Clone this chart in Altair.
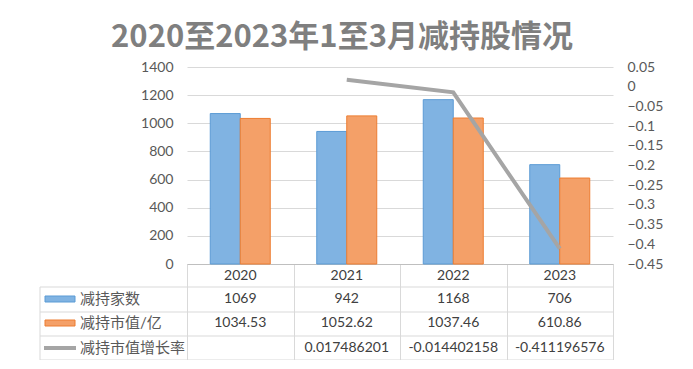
import altair as alt
import pandas as pd

years = ["2020", "2021", "2022", "2023"]
firms = [1069, 942, 1168, 706]
mkt_value = [1034.53, 1052.62, 1037.46, 610.86]
growth = [None, 0.017486201, -0.014402158, -0.411196576]
firms_txt = ["1069", "942", "1168", "706"]
value_txt = ["1034.53", "1052.62", "1037.46", "610.86"]
growth_txt = ["", "0.017486201", "-0.014402158", "-0.411196576"]
series = ["减持家数", "减持市值/亿", "减持市值增长率"]
left_ticks = [0, 200, 400, 600, 800, 1000, 1200, 1400]
right_ticks = [0.05, 0, -0.05, -0.1, -0.15, -0.2, -0.25, -0.3, -0.35, -0.4, -0.45]

FONT = "Lato, Noto Sans CJK SC, sans-serif"
TXT = "#404040"
W, H = 426, 197

bars_df = pd.DataFrame({
    "year": years * 2,
    "series": [series[0]] * 4 + [series[1]] * 4,
    "val": firms + mkt_value,
})
line_df = pd.DataFrame({"year": years, "growth": growth}).dropna()
table_df = pd.DataFrame({"year": years, "f": firms_txt, "v": value_txt, "g": growth_txt})

xscale = alt.Scale(domain=years, paddingInner=0, paddingOuter=0)

bars = alt.Chart(bars_df).mark_bar(strokeWidth=1).encode(
    x=alt.X("year:N", scale=xscale, sort=years,
            axis=alt.Axis(title=None, labels=False, tickBand="extent", tickSize=96,
                          tickColor="#d9d9d9", domainColor="#bfbfbf", grid=False)),
    xOffset=alt.XOffset("series:N", sort=series[:2],
                        scale=alt.Scale(paddingOuter=0.775, paddingInner=0)),
    y=alt.Y("val:Q", scale=alt.Scale(domain=[0, 1400], nice=False),
            axis=alt.Axis(title=None, values=left_ticks, format="d", grid=True, gridColor="#d9d9d9",
                          domain=False, ticks=False, labelFontSize=14, labelColor="#595959",
                          labelPadding=14, labelFont=FONT)),
    color=alt.Color("series:N", scale=alt.Scale(domain=series[:2], range=["#80b3e2", "#f4a068"]),
                    legend=None),
    stroke=alt.Stroke("series:N", scale=alt.Scale(domain=series[:2], range=["#5b9bd5", "#ed7d31"]),
                      legend=None),
)

line = alt.Chart(line_df).mark_line(color="#a5a5a5", strokeWidth=4).encode(
    x=alt.X("year:N", scale=xscale, sort=years),
    y=alt.Y("growth:Q", scale=alt.Scale(domain=[-0.45, 0.05], nice=False, zero=False),
            axis=alt.Axis(title=None, orient="right", values=right_ticks, format="~g",
                          grid=False, domain=False, ticks=False, labelFontSize=14,
                          labelColor="#595959", labelPadding=14, labelFont=FONT)),
)

main = alt.layer(bars, line).resolve_scale(y="independent", stroke="independent")

def row_text(field, ypix):
    return alt.Chart(table_df).mark_text(fontSize=14, color=TXT, font=FONT, baseline="middle").encode(
        x=alt.X("year:N", scale=xscale, sort=years),
        y=alt.value(ypix),
        text=f"{field}:N",
    )

hdr = row_text("year", 209)
r1 = row_text("f", 232)
r2 = row_text("v", 256)
r3 = row_text("g", 281)

one = pd.DataFrame({"a": [0]})
rules = []
for yy in [220, 245, 269, 293]:
    rules.append(alt.Chart(one).mark_rule(color="#d9d9d9", strokeWidth=1).encode(
        x=alt.value(-147), x2=alt.value(W), y=alt.value(yy)))
rules.append(alt.Chart(one).mark_rule(color="#d9d9d9", strokeWidth=1).encode(
    x=alt.value(-147), y=alt.value(220), y2=alt.value(293)))

legend_rows = []
colors = ["#80b3e2", "#f4a068"]
strokes = ["#5b9bd5", "#ed7d31"]
ys = [232, 256, 281]
for i, name in enumerate(series):
    d = pd.DataFrame({"name": [name]})
    if i < 2:
        sw = alt.Chart(d).mark_rect(fill=colors[i], stroke=strokes[i], strokeWidth=1).encode(
            x=alt.value(-142), x2=alt.value(-112), y=alt.value(ys[i] - 3), y2=alt.value(ys[i] + 3))
    else:
        sw = alt.Chart(d).mark_rule(color="#a5a5a5", strokeWidth=4).encode(
            x=alt.value(-143), x2=alt.value(-111), y=alt.value(ys[i]))
    tx = alt.Chart(d).mark_text(fontSize=15, color="#595959", font=FONT, align="left",
                                baseline="middle").encode(
        x=alt.value(-107), y=alt.value(ys[i]), text="name:N")
    legend_rows += [sw, tx]

chart = alt.layer(main, hdr, r1, r2, r3, *rules, *legend_rows).properties(
    width=W, height=H,
    title=alt.TitleParams("2020至2023年1至3月减持股情况", fontSize=31, fontWeight="bold",
                          color="#7f7f7f", font="Noto Sans CJK SC", anchor="middle",
                          dx=-58, offset=6),
    padding={"left": 179, "top": 59, "right": 70, "bottom": 96},
    autosize=alt.AutoSizeParams(type="none"),
).configure_view(stroke=None)

chart.save("out.html", embed_options={"renderer": "svg", "actions": False})
